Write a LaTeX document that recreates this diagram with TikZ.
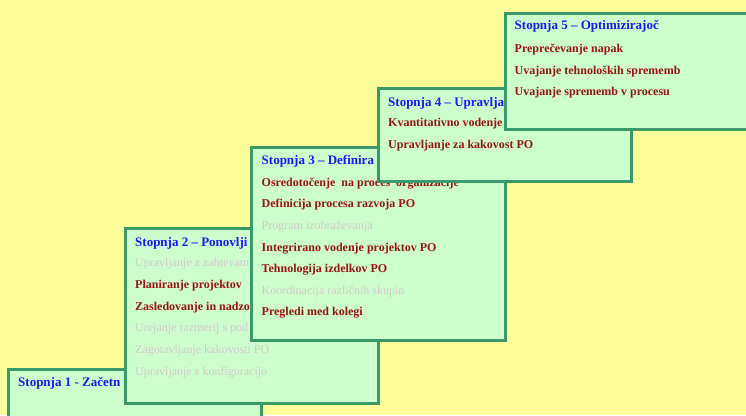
\documentclass[tikz,border=0pt]{standalone}
\usepackage{fontspec}
\setmainfont{Liberation Serif}
\definecolor{pagebg}{HTML}{FFFF99}
\definecolor{boxfill}{HTML}{CCFFCC}
\definecolor{boxline}{HTML}{3A9A6A}
\definecolor{titleblue}{HTML}{1A1AFF}
\definecolor{itemred}{HTML}{9E1414}
\definecolor{itemgrey}{HTML}{D2C8CE}
\begin{document}
\begin{tikzpicture}[x=1pt,y=-1pt,
  stagebox/.style={draw=boxline,fill=boxfill,line width=2.5pt,rectangle,inner sep=0pt,anchor=north west},
  stagetitle/.style={anchor=base west,inner sep=0pt,text=titleblue,font=\bfseries\fontsize{13}{15}\selectfont},
  keyitem/.style={anchor=base west,inner sep=0pt,text=itemred,font=\bfseries\fontsize{12}{14}\selectfont},
  minoritem/.style={anchor=base west,inner sep=0pt,text=itemgrey,font=\fontsize{12}{14}\selectfont}]
\useasboundingbox (0,0) rectangle (746,415);
\clip (0,0) rectangle (746,415);
\fill[pagebg] (0,0) rectangle (746,415);

% Stage 1
\node[stagebox,minimum width=253pt,minimum height=102pt] (s1) at (7,368) {};
\node[stagetitle] (s1t) at (18,386.5) {Stopnja 1 - Začetn};

% Stage 2
\node[stagebox,minimum width=253pt,minimum height=175pt] (s2) at (124,227) {};
\node[stagetitle] (s2t) at (135,246.5) {Stopnja 2 – Ponovlji};
\node[minoritem] (s2a) at (135,266.7) {Upravljanje z zahtevam};
\node[keyitem]   (s2b) at (135,288.3) {Planiranje projektov};
\node[keyitem]   (s2c) at (135,310) {Zasledovanje in nadzo};
\node[minoritem] (s2d) at (135,331.7) {Urejanje razmerij s pod};
\node[minoritem] (s2e) at (135,353) {Zagotavljanje kakovosti PO};
\node[minoritem] (s2f) at (135,375) {Upravljanje s konfiguracijo};

% Stage 3
\node[stagebox,minimum width=254pt,minimum height=193pt] (s3) at (250,146) {};
\node[stagetitle] (s3t) at (261.5,164) {Stopnja 3 – Definira};
\node[keyitem]   (s3a) at (261.5,186) {Osredotočenje \ na proces \ organizacije};
\node[keyitem]   (s3b) at (261.5,207) {Definicija procesa razvoja PO};
\node[minoritem] (s3c) at (261.5,229) {Program izobraževanja};
\node[keyitem]   (s3d) at (261.5,251) {Integrirano vodenje projektov PO};
\node[keyitem]   (s3e) at (261.5,272) {Tehnologija izdelkov PO};
\node[minoritem] (s3f) at (261.5,294) {Koordinacija različnih skupin};
\node[keyitem]   (s3g) at (261.5,315) {Pregledi med kolegi};

% Stage 4
\node[stagebox,minimum width=253pt,minimum height=93pt] (s4) at (377,87) {};
\node[stagetitle] (s4t) at (388,106) {Stopnja 4 – Upravlja};
\node[keyitem]   (s4a) at (388,126.7) {Kvantitativno vodenje p};
\node[keyitem]   (s4b) at (388,148.3) {Upravljanje za kakovost PO};

% Stage 5
\node[stagebox,minimum width=253pt,minimum height=116pt] (s5) at (504,12) {};
\node[stagetitle] (s5t) at (514.5,29.5) {Stopnja 5 – Optimizirajoč};
\node[keyitem]   (s5a) at (514.5,52.3) {Preprečevanje napak};
\node[keyitem]   (s5b) at (514.5,74) {Uvajanje tehnoloških sprememb};
\node[keyitem]   (s5c) at (514.5,95.3) {Uvajanje sprememb v procesu};
\end{tikzpicture}
\end{document}
